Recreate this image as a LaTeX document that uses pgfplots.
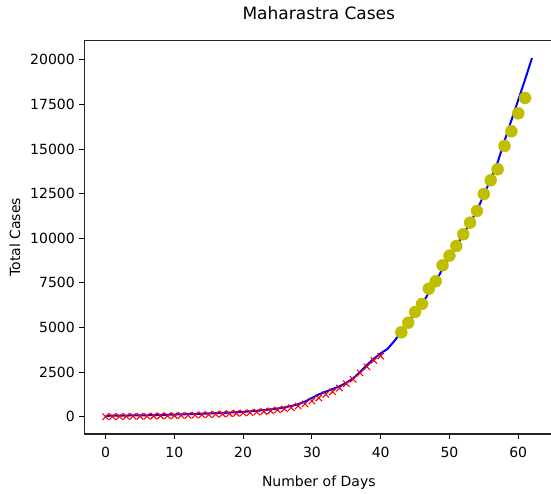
\documentclass[border=0pt]{standalone}
\usepackage{pgfplots}
\pgfplotsset{compat=1.18}
\usepackage{fontspec}
\setmainfont{DejaVu Sans}
\definecolor{olivey}{RGB}{191,191,0}
\begin{document}
\begin{tikzpicture}
\clip (-84.3pt,-59pt) rectangle (466.7pt,434pt);
\begin{axis}[
  at={(0,0)}, anchor=south west,
  width=469pt, height=393.6pt, scale only axis,
  axis x line*=bottom, axis y line*=left,
  xmin=-3.1, xmax=65.1, ymin=-970, ymax=21090,
  xtick={0,10,20,30,40,50,60},
  ytick={0,2500,5000,7500,10000,12500,15000,17500,20000},
  scaled y ticks=false,
  /pgf/number format/.cd, 1000 sep={}, fixed, assume math mode=true,
  /pgfplots/.cd,
  tick align=outside, tick pos=left,
  major tick length=5pt,
  every tick/.style={black, line width=1pt},
  axis line style={line width=1.3pt, black!85},
  ticklabel style={font=\fontsize{14}{16}\selectfont},
  xticklabel style={yshift=-5pt},
  yticklabel style={xshift=-1pt},
  title={Maharastra Cases},
  title style={font=\fontsize{17}{20}\selectfont, at={(axis description cs:0.5,1.054)}, anchor=center},
  xlabel={Number of Days},
  ylabel={Total Cases},
  xlabel style={font=\fontsize{14}{16}\selectfont, at={(axis description cs:0.5,-0.1245)}, anchor=center},
  ylabel style={font=\fontsize{14}{16}\selectfont, at={(axis description cs:-0.148,0.5)}, anchor=center},
  clip=false,
]
\draw[line width=1.3pt, black!85] (rel axis cs:0,1) -- (rel axis cs:1,1);
\addplot[color=blue, line width=2pt, no marks] coordinates {
(0,50)(1,55)(2,60)(3,65)(4,70)(5,75)(6,80)(7,90)(8,100)(9,110)
(10,120)(11,130)(12,140)(13,150)(14,165)(15,180)(16,195)(17,210)(18,230)(19,250)
(20,270)(21,300)(22,330)(23,370)(24,410)(25,460)(26,520)(27,600)(28,700)(29,850)
(30,1050)(31,1250)(32,1400)(33,1550)(34,1700)(35,1900)(36,2150)(37,2500)(38,2900)(39,3250)
(40,3550)(41,3800)(42,4250)(43,4750)(44,5250)(45,5800)(46,6300)(47,6950)(48,7550)(49,8300)
(50,8950)(51,9550)(52,10200)(53,10850)(54,11550)(55,12450)(56,13300)(57,14250)(58,15450)(59,16600)
(60,17750)(61,18900)(62,20100)
};
\addplot[only marks, mark=x, color=red, mark size=4.5pt, line width=1.1pt] coordinates {
(0,0)(1,5)(2,10)(3,15)(4,20)(5,25)(6,30)(7,40)(8,45)(9,50)
(10,60)(11,70)(12,80)(13,90)(14,105)(15,120)(16,135)(17,150)(18,170)(19,190)
(20,210)(21,230)(22,260)(23,290)(24,330)(25,380)(26,440)(27,510)(28,600)(29,720)
(30,880)(31,1050)(32,1250)(33,1400)(34,1600)(35,1850)(36,2100)(37,2450)(38,2800)(39,3150)
(40,3400)
};
\addplot[only marks, mark=*, color=olivey, mark size=6pt] coordinates {
(43,4731)(44,5269)(45,5868)(46,6317)(47,7174)(48,7589)(49,8486)(50,9024)(51,9568)(52,10223)
(53,10874)(54,11529)(55,12482)(56,13250)(57,13867)(58,15173)(59,15997)(60,17005)(61,17863)
};
\end{axis}
\end{tikzpicture}
\end{document}
